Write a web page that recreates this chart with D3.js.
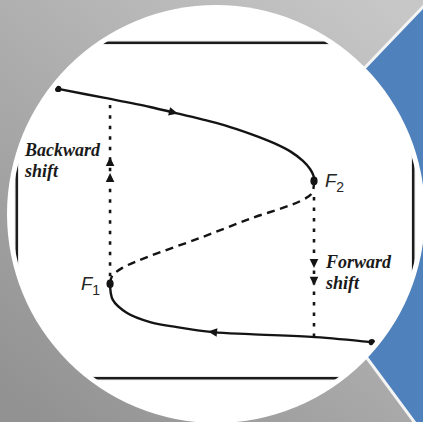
<!DOCTYPE html>
<html>
<head>
<meta charset="utf-8">
<script src="https://cdn.jsdelivr.net/npm/d3@7"></script>
<style>
  html, body { margin: 0; padding: 0; background: #b0b0b0; }
  svg { display: block; }
</style>
</head>
<body>
<script>
// S-shaped hysteresis curve: stable upper branch, unstable middle branch, stable lower branch
const upperBranch = [[10.4, 86.3], [22.2, 83.6], [33.6, 80.9], [39.4, 79.3], [46.5, 77.3],
                     [52.3, 75.5], [59.1, 72.8], [64.9, 70.1], [69.2, 67.5], [72.2, 64.8],
                     [74.0, 62.4], [74.9, 60.3], [75.0, 58.8]];
const middleBranch = [[75.0, 58.8], [74.5, 55.2], [71.5, 52.8], [58.8, 47.5], [46.2, 41.8],
                      [33.6, 36.4], [26.5, 32.8], [24.0, 30.4], [23.5, 28.1]];
const lowerBranch = [[23.5, 28.1], [24.2, 23.3], [27.8, 19.4], [33.6, 16.7], [40.4, 15.2],
                     [49.5, 13.7], [58.8, 13.1], [75.3, 12.2], [89.6, 10.7]];

// fold points and the jumps between branches
const foldPoints = [{ name: "F", sub: "2", at: [75.0, 58.8], side: "right" },
                    { name: "F", sub: "1", at: [23.5, 28.1], side: "left" }];
const backwardJump = { x: 23.5, from: 30.4, to: 81.5, arrows: [64.5, 59.7] };
const forwardJump = { x: 75.0, from: 54.0, to: 12.2, arrows: [34.3, 29.0] };
const jumpLabels = [{ lines: ["Backward", "shift"], at: [2.0, 66.3] },
                    { lines: ["Forward", "shift"], at: [78.0, 32.8] }];

const W = 423, H = 422;
const svg = d3.select("body").append("svg").attr("width", W).attr("height", H);
const defs = svg.append("defs");

// backdrop gradient
const bg = defs.append("linearGradient").attr("id", "bg")
  .attr("x1", 0.9).attr("y1", 0).attr("x2", 0.1).attr("y2", 1);
bg.append("stop").attr("offset", 0).attr("stop-color", "#c7c7c7");
bg.append("stop").attr("offset", 1).attr("stop-color", "#929292");
svg.append("rect").attr("width", W).attr("height", H).attr("fill", "url(#bg)");

// blue chevron behind the disc
svg.append("path")
  .attr("d", "M245,193 L441,-12 L500,-12 L500,450 L435,450 Z")
  .attr("fill", "#4f81bd").attr("stroke", "#f4f4f4").attr("stroke-width", 3)
  .attr("stroke-linejoin", "miter");

// white disc
const cx = 216, cy = 214;
svg.append("circle").attr("cx", cx).attr("cy", cy).attr("r", 209).attr("fill", "#ffffff");
defs.append("clipPath").attr("id", "disc")
  .append("circle").attr("cx", cx).attr("cy", cy).attr("r", 204);

const g = svg.append("g").attr("clip-path", "url(#disc)");

const x = d3.scaleLinear().domain([0, 100]).range([17, 413]);
const y = d3.scaleLinear().domain([0, 100]).range([378, 43]);

// frame
g.append("rect")
  .attr("x", x(0) - 1.5).attr("y", y(100) - 1.5)
  .attr("width", x(100) - x(0) + 3).attr("height", y(0) - y(100) + 3)
  .attr("fill", "none").attr("stroke", "#9a9a9a").attr("stroke-width", 1.2);
g.append("rect")
  .attr("x", x(0)).attr("y", y(100))
  .attr("width", x(100) - x(0)).attr("height", y(0) - y(100))
  .attr("fill", "none").attr("stroke", "#1c1c1c").attr("stroke-width", 2.2);

const line = d3.line().x(d => x(d[0])).y(d => y(d[1])).curve(d3.curveCatmullRom.alpha(0.5));
const ink = "#141414";

// jump lines (dotted)
[backwardJump, forwardJump].forEach(j => {
  g.append("line")
    .attr("x1", x(j.x)).attr("x2", x(j.x)).attr("y1", y(j.from)).attr("y2", y(j.to))
    .attr("stroke", ink).attr("stroke-width", 2.6).attr("stroke-dasharray", "3.5,7");
  const dir = j.to > j.from ? -1 : 1; // -1: pointing up on screen
  j.arrows.forEach(v => {
    const px = x(j.x), py = y(v);
    g.append("path")
      .attr("d", `M${px},${py + dir * 5} L${px - 4.3},${py - dir * 4} L${px + 4.3},${py - dir * 4} Z`)
      .attr("fill", ink);
  });
});

// branches
g.append("path").attr("d", line(upperBranch)).attr("fill", "none")
  .attr("stroke", ink).attr("stroke-width", 2.4);
g.append("path").attr("d", line(lowerBranch)).attr("fill", "none")
  .attr("stroke", ink).attr("stroke-width", 2.4);
g.append("path").attr("d", line(middleBranch)).attr("fill", "none")
  .attr("stroke", ink).attr("stroke-width", 2.4).attr("stroke-dasharray", "8,5.5");

// direction arrows on the stable branches
function arrowOn(pts, i, reverse) {
  const a = pts[i - 1], b = pts[i + 1];
  let ang = Math.atan2(y(b[1]) - y(a[1]), x(b[0]) - x(a[0])) * 180 / Math.PI;
  if (reverse) ang += 180;
  g.append("path")
    .attr("d", "M5,0 L-4,-4.3 L-4,4.3 Z")
    .attr("transform", `translate(${x(pts[i][0])},${y(pts[i][1])}) rotate(${ang})`)
    .attr("fill", ink);
}
arrowOn(upperBranch, 3, false);
arrowOn(lowerBranch, 5, true);

// end points and fold points
[upperBranch[0], lowerBranch[lowerBranch.length - 1]].forEach(p => {
  g.append("circle").attr("cx", x(p[0])).attr("cy", y(p[1])).attr("r", 3.2).attr("fill", ink);
});
foldPoints.forEach(f => {
  g.append("ellipse").attr("cx", x(f.at[0])).attr("cy", y(f.at[1]))
    .attr("rx", 3.6).attr("ry", 4.4).attr("fill", ink);
  const tx = f.side === "right" ? x(f.at[0]) + 11 : x(f.at[0]) - 29;
  const t = g.append("text").attr("x", tx).attr("y", y(f.at[1]) + 6)
    .attr("font-family", "Liberation Sans, Arial, sans-serif").attr("font-style", "italic")
    .attr("font-size", 18.5).attr("fill", "#262626");
  t.append("tspan").text(f.name);
  t.append("tspan").attr("font-style", "normal").attr("font-size", 14).attr("dy", 5).text(f.sub);
});

// jump labels
jumpLabels.forEach(l => {
  const t = g.append("text").attr("x", x(l.at[0])).attr("y", y(l.at[1]))
    .attr("font-family", "Liberation Serif, Times New Roman, serif")
    .attr("font-style", "italic").attr("font-weight", "bold")
    .attr("font-size", 18).attr("fill", "#1a1a1a");
  l.lines.forEach((s, k) => {
    t.append("tspan").attr("x", x(l.at[0])).attr("dy", k === 0 ? 0 : 21).text(s);
  });
});
</script>
</body>
</html>
